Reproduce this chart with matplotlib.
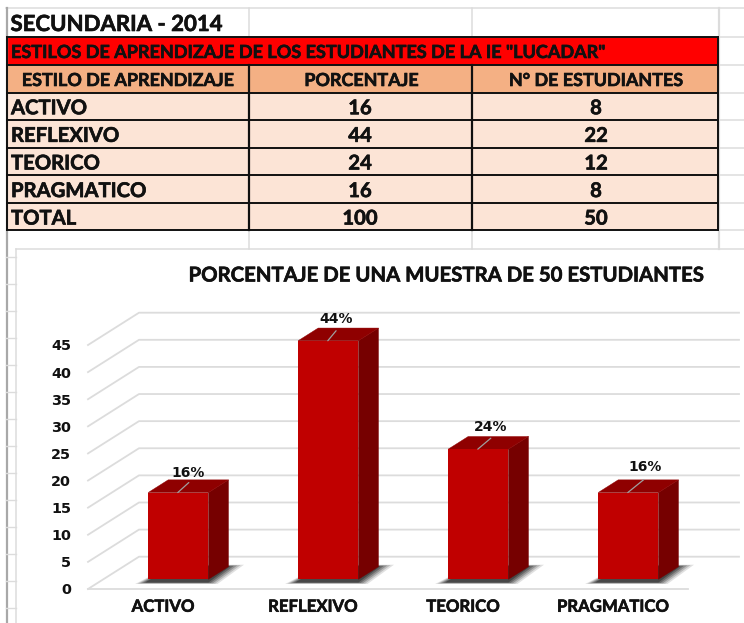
import matplotlib
matplotlib.use("Agg")
import matplotlib.pyplot as plt
import matplotlib.patheffects as pe
from matplotlib.font_manager import FontProperties
from matplotlib.textpath import TextPath
import numpy as np

# ---------- data ----------
sheet_title = "SECUNDARIA - 2014"
table_title = 'ESTILOS DE APRENDIZAJE DE LOS ESTUDIANTES DE LA IE "LUCADAR"'
table_headers = ["ESTILO DE APRENDIZAJE", "PORCENTAJE", "N° DE ESTUDIANTES"]
row_names = ["ACTIVO", "REFLEXIVO", "TEORICO", "PRAGMATICO", "TOTAL"]
row_percent = [16, 44, 24, 16, 100]
row_students = [8, 22, 12, 8, 50]

chart_title = "PORCENTAJE DE UNA MUESTRA DE 50 ESTUDIANTES"
categories = ["ACTIVO", "REFLEXIVO", "TEORICO", "PRAGMATICO"]
values = [16, 44, 24, 16]
y_ticks = [0, 5, 10, 15, 20, 25, 30, 35, 40, 45]

# ---------- styling ----------
W, H = 744, 623
GRID = "#dcdcdc"
FACE, SIDE, TOP = "#c00000", "#760000", "#8f0000"
SANS = "Lato"
plt.rcParams["font.family"] = [SANS, "DejaVu Sans"]
PT = 72 / 100
HEAVY = [pe.withStroke(linewidth=0.45, foreground="#111111")]


def size_for(text, width_px):
    """Font size at which bold text spans width_px pixels."""
    prop = FontProperties(family=SANS, weight="bold")
    ext = TextPath((0, 0), text, size=10, prop=prop).get_extents()
    return 10 * width_px * PT / ext.width


fig = plt.figure(figsize=(W / 100, H / 100), dpi=100, facecolor="white")

# ---------- worksheet and table (pixel coordinates) ----------
bg = fig.add_axes([0, 0, 1, 1])
bg.set_xlim(0, W)
bg.set_ylim(H, 0)
bg.axis("off")

col_x = [7, 248.5, 472, 718]
row_y = [37.3, 64.8, 92.5, 120, 147.7, 175.3, 202.8, 230.3]

# sheet cell lines
bg.plot([6, W], [8, 8], color=GRID, lw=1.1)
for y in row_y:
    bg.plot([718, W], [y, y], color=GRID, lw=1.1)
for x in col_x[1:3]:
    bg.plot([x, x], [8, 37], color=GRID, lw=1.1)
    bg.plot([x, x], [230, 249], color=GRID, lw=1.1)
bg.plot([718.5, 718.5], [8, 249], color=GRID, lw=1.6)
bg.plot([6.5, 6.5], [8, H], color="#a8a8a8", lw=1.6)
bg.plot([16, 16], [249, H], color=GRID, lw=1.1)
for y in np.arange(257, H, 27):
    bg.plot([6, 16], [y, y], color=GRID, lw=1.0)
bg.plot([16, W], [249.3, 249.3], color=GRID, lw=1.1)


def fill(x0, x1, y0, y1, color):
    bg.fill([x0, x1, x1, x0], [y0, y0, y1, y1], color=color, lw=0, zorder=1)


fill(col_x[0], col_x[3], row_y[0], row_y[1], "#ff0000")
fill(col_x[0], col_x[3], row_y[1], row_y[2], "#f4b084")
fill(col_x[0], col_x[3], row_y[2], row_y[7], "#fce4d6")
for y in row_y:
    bg.plot([col_x[0], col_x[3]], [y, y], color="#101010", lw=1.4, zorder=2)
for x in (col_x[0], col_x[3]):
    bg.plot([x, x], [row_y[0], row_y[7]], color="#101010", lw=1.4, zorder=2)
for x in col_x[1:3]:
    bg.plot([x, x], [row_y[1], row_y[7]], color="#101010", lw=1.6, zorder=2)

TXT = dict(fontweight="bold", color="#111111", va="center_baseline", zorder=3,
           path_effects=HEAVY)
bg.text(10.5, 22.5, sheet_title, fontsize=size_for(sheet_title, 211), ha="left", **TXT)
bg.text(11, 51, table_title, fontsize=size_for(table_title, 592), ha="left", **TXT)
header_size = size_for(table_headers[0], 210)
for x, label in zip([128, 361.5, 596], table_headers):
    bg.text(x, 79, label, fontsize=header_size, ha="center", **TXT)
row_size = size_for("PRAGMATICO", 133)
for i in range(5):
    yc = (row_y[i + 2] + row_y[i + 3]) / 2
    bg.text(11, yc, row_names[i], fontsize=row_size, ha="left", **TXT)
    bg.text(360, yc, str(row_percent[i]), fontsize=row_size, ha="center", **TXT)
    bg.text(596, yc, str(row_students[i]), fontsize=row_size, ha="center", **TXT)

bg.text(446.5, 273.5, chart_title, fontsize=size_for(chart_title, 513), ha="center", **TXT)

# ---------- chart: axes on the front floor plane, depth by oblique projection ----------
ax_left, ax_right, ax_bottom, ax_top = 88, 688, 589, 345
ax = fig.add_axes([ax_left / W, (H - ax_bottom) / H,
                   (ax_right - ax_left) / W, (ax_bottom - ax_top) / H])
ax.patch.set_alpha(0)
ax.set_xlim(-0.5, 3.5)
ax.set_ylim(0, 45)
for s in ax.spines.values():
    s.set_visible(False)

px_x = (ax_right - ax_left) / 4
px_y = (ax_bottom - ax_top) / 45
DX, DY = 51 / px_x, 32.3 / px_y     # full floor depth in data units


def proj(x, v, d):
    return x + d * DX, v + d * DY


FRONT, BACK = 0.30, 0.30 + 0.393
BAR_W = 60.3 / px_x

# grid: wall lines and diagonals
for t in y_ticks:
    xa, ya = proj(-0.5, t, 0)
    xb, yb = proj(-0.5, t, 1)
    xc, yc = proj(3.5, t, 1)
    ax.plot([xa, xb, xc], [ya, yb, yc], color=GRID, lw=1.3, clip_on=False, zorder=1)
ax.plot([-0.5, 3.5], [0, 0], color=GRID, lw=1.3, clip_on=False, zorder=1)

x_pos = np.arange(len(categories))
bx, by = proj(x_pos, 0, FRONT)

# soft floor shadows
depth = BACK - FRONT
ddx, ddy = depth * DX, depth * DY
for xc0 in bx:
    l, r = xc0 - BAR_W / 2, xc0 + BAR_W / 2
    for grow, alpha in zip([1.0, 0.75, 0.5, 0.25, 0.0], [0.14, 0.20, 0.28, 0.36, 0.50]):
        gx, gy = grow * 9 / px_x, grow * 1.5 / px_y
        ax.fill([l - (3 + 10 * grow) / px_x, r + gx, r + ddx + gx * 1.5 + 2 / px_x,
                 l + ddx + 4 / px_x],
                [by - 3.2 / px_y - gy, by - 3.2 / px_y - gy,
                 by + ddy + 0.4 / px_y + gy, by + ddy + 0.4 / px_y + gy],
                color="#262626", alpha=alpha, lw=0, clip_on=False, zorder=2)

# 3-D bar faces
for xc0, v in zip(bx, values):
    l, r = xc0 - BAR_W / 2, xc0 + BAR_W / 2
    top = by + v
    ax.fill([r, r + ddx, r + ddx, r], [by, by + ddy, top + ddy, top],
            facecolor=SIDE, edgecolor=SIDE, lw=0.3, clip_on=False, zorder=3)
    ax.fill([l, r, r + ddx, l + ddx], [top, top, top + ddy, top + ddy],
            facecolor=TOP, edgecolor=TOP, lw=0.3, clip_on=False, zorder=3)
ax.bar(bx, values, width=BAR_W, bottom=by, color=FACE, lw=0, clip_on=False, zorder=4)

# data labels with leader lines (offsets in pixels -> points)
label_dx = [10, 8, 12.7, 17]
label_dy = [20, 22, 22, 26]
line_dx = [11, 8.3, 13, 16]
line_dy = [10, 10, 11, 13]
for xc0, v, ldx, ldy, ex, ey in zip(bx, values, label_dx, label_dy, line_dx, line_dy):
    ax.annotate("", xy=(xc0 - 0.5 / px_x, by + v), xytext=(ex * PT, ey * PT),
                textcoords="offset points", annotation_clip=False, zorder=5,
                arrowprops=dict(arrowstyle="-", color="#a0a0a0", lw=0.9,
                                shrinkA=0, shrinkB=0))
    ax.annotate(f"{v}%", xy=(xc0, by + v), xytext=(ldx * PT, ldy * PT),
                textcoords="offset points", ha="center", va="center",
                fontsize=10, fontweight="semibold", color="#111111",
                annotation_clip=False, zorder=6, family=["DejaVu Sans"])

# axis labels
ax.set_yticks(y_ticks)
ax.set_yticklabels([str(t) for t in y_ticks], fontsize=10.4, fontweight="bold",
                   family="DejaVu Sans", color="#111111")
ax.tick_params(axis="y", length=0, pad=12)
ax.set_xticks(x_pos)
ax.set_xticklabels(categories, fontsize=size_for("PRAGMATICO", 110), fontweight="bold",
                   color="#111111", path_effects=HEAVY)
ax.tick_params(axis="x", length=0, pad=7)

fig.savefig("out.png", dpi=100)
